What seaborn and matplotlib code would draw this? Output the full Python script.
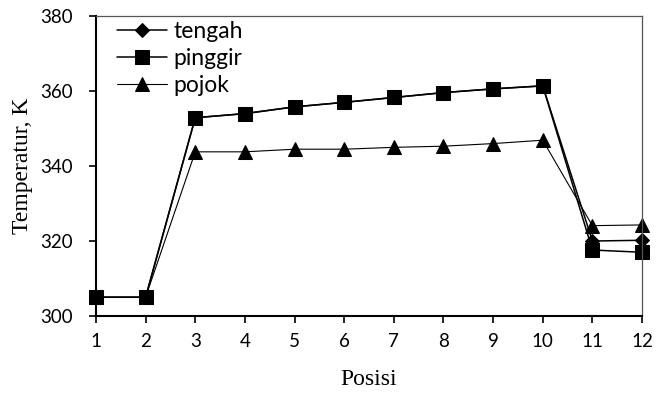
import matplotlib
matplotlib.use("Agg")
import matplotlib.pyplot as plt
import seaborn as sns
import pandas as pd

posisi = list(range(1, 13))
tengah = [305, 305, 352.9, 354.0, 355.8, 357.0, 358.3, 359.6, 360.6, 361.4, 320.0, 320.2]
pinggir = [305, 305, 352.9, 354.0, 355.8, 357.0, 358.3, 359.6, 360.6, 361.4, 317.6, 317.0]
pojok = [305, 305, 343.8, 343.8, 344.5, 344.5, 345.0, 345.3, 346.0, 346.9, 324.1, 324.3]
series_names = ["tengah", "pinggir", "pojok"]
yticks = [300, 320, 340, 360, 380]

sns.set_theme(style="white")
plt.rcParams["font.family"] = ["Lato", "DejaVu Sans"]

fig = plt.figure(figsize=(6.56, 3.94), dpi=100)
ax = fig.add_axes([0.1463, 0.198, 0.8324, 0.761])

df = pd.DataFrame({"Posisi": posisi, "tengah": tengah, "pinggir": pinggir, "pojok": pojok})
styles = {
    "tengah": dict(marker="D", markersize=7.5, linewidth=1.1),
    "pinggir": dict(marker="s", markersize=10, linewidth=1.1),
    "pojok": dict(marker="^", markersize=10, linewidth=0.8),
}
for name in series_names:
    st = styles[name]
    sns.lineplot(data=df, x="Posisi", y=name, ax=ax, color="black",
                 marker=st["marker"], markersize=st["markersize"],
                 markeredgecolor="black", markerfacecolor="black",
                 linewidth=st["linewidth"], label=name, clip_on=False)

ax.set_xlim(1, 12)
ax.set_ylim(300, 380)
ax.set_xticks(posisi)
ax.set_yticks(yticks)
ax.tick_params(axis="both", which="major", direction="out", length=5, width=1.2,
               labelsize=13.5, colors="black", bottom=True, left=True)
ax.tick_params(axis="x", pad=7)
ax.tick_params(axis="y", pad=12)
ax.set_xlabel("Posisi", fontfamily="Liberation Serif", fontsize=17, color="black", labelpad=14)
ax.set_ylabel("Temperatur, K", fontfamily="Liberation Serif", fontsize=17, color="black", labelpad=5)

for s in ["left", "bottom"]:
    ax.spines[s].set_color("black")
    ax.spines[s].set_linewidth(1.5)
for s in ["top", "right"]:
    ax.spines[s].set_color("#555555")
    ax.spines[s].set_linewidth(0.9)
ax.grid(False)

leg = ax.legend(loc="upper left", frameon=False, fontsize=16.5, handlelength=2.2,
                handletextpad=0.27, labelspacing=0.25, borderaxespad=0, borderpad=0,
                bbox_to_anchor=(0.0385, 0.983))
for t in leg.get_texts():
    t.set_color("black")

fig.savefig("out.png", dpi=100)
